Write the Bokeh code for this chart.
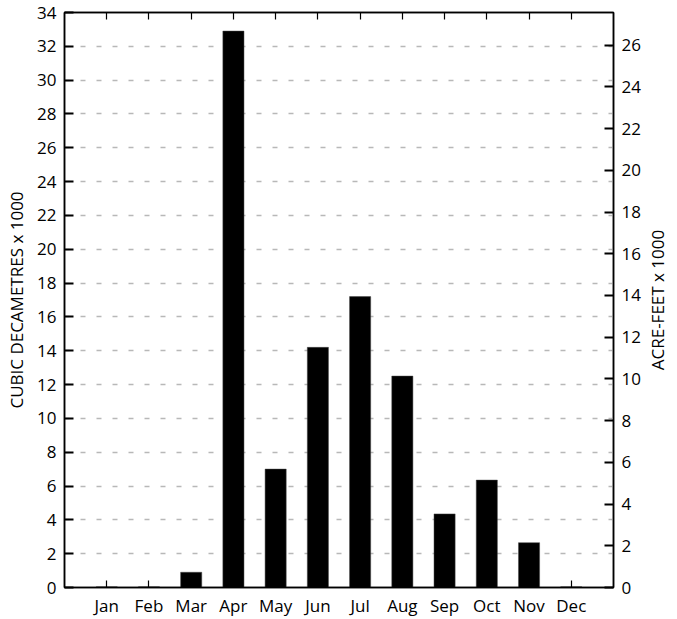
import math
from bokeh.plotting import figure
from bokeh.models import (LinearAxis, Range1d, FixedTicker)
from bokeh.layouts import row
from bokeh.core.properties import value
from bokeh.embed import file_html
from bokeh.resources import INLINE

months = ["Jan", "Feb", "Mar", "Apr", "May", "Jun", "Jul", "Aug", "Sep", "Oct", "Nov", "Dec"]
volume_dam3 = [0.04, 0.04, 0.9, 32.9, 7.0, 14.2, 17.2, 12.5, 4.35, 6.35, 2.65, 0.04]
left_ticks = list(range(0, 35, 2))
right_ticks = list(range(0, 28, 2))
right_title = "ACRE-FEET x 1000"
left_title = "CUBIC DECAMETRES x 1000"
DAM3_TO_AF = 0.8107
y_max = 34
x_max = 13

FONT = "Open Sans"
FS = "17px"
xs = list(range(1, len(months) + 1))

p = figure(width=647, height=619, output_backend="svg", toolbar_location=None,
           x_range=Range1d(0, x_max), y_range=Range1d(0, y_max),
           min_border_left=64, min_border_right=34, min_border_top=12, min_border_bottom=32)
p.extra_y_ranges = {"af": Range1d(0, y_max * DAM3_TO_AF)}

p.vbar(x=xs, top=volume_dam3, width=0.5, fill_color="black", line_color="#444444", line_width=0.5)

p.outline_line_color = "black"
p.outline_line_width = 1.5
p.xgrid.visible = False
p.ygrid.grid_line_color = "#b8b8b8"
p.ygrid.grid_line_dash = "5 11"
p.ygrid.grid_line_width = 1.5
p.ygrid.ticker = FixedTicker(ticks=left_ticks)

# bottom axis
xa = p.xaxis[0]
xa.ticker = FixedTicker(ticks=xs)
xa.major_label_overrides = {i: m for i, m in zip(xs, months)}
xa.major_tick_in = 7
xa.major_tick_out = 0
xa.minor_tick_line_color = None
xa.axis_line_width = 1.5
xa.major_tick_line_width = 1.2
xa.major_label_text_font = FONT
xa.major_label_text_font_size = FS
xa.major_label_text_color = "black"
xa.major_label_standoff = 6

# left axis
ya = p.yaxis[0]
ya.ticker = FixedTicker(ticks=left_ticks)
ya.major_tick_in = 9
ya.major_tick_out = 0
ya.minor_tick_line_color = None
ya.axis_line_width = 1.5
ya.major_tick_line_width = 2
ya.major_label_text_font = FONT
ya.major_label_text_font_size = FS
ya.major_label_text_color = "black"
ya.major_label_standoff = 8
ya.axis_label = left_title
ya.axis_label_text_font = FONT
ya.axis_label_text_font_size = FS
ya.axis_label_text_font_style = "normal"
ya.axis_label_text_color = "black"
ya.axis_label_standoff = 6

# top axis
ta = LinearAxis(ticker=FixedTicker(ticks=xs))
ta.major_tick_in = 7
ta.major_tick_out = 0
ta.minor_tick_line_color = None
ta.major_label_text_alpha = 0
ta.major_label_text_font_size = "1px"
ta.axis_line_width = 1.5
ta.major_tick_line_width = 1.2
p.add_layout(ta, "above")

# right axis
ra = LinearAxis(y_range_name="af", ticker=FixedTicker(ticks=right_ticks))
ra.major_tick_in = 9
ra.major_tick_out = 0
ra.minor_tick_line_color = None
ra.axis_line_width = 1.5
ra.major_tick_line_width = 2
ra.major_label_text_font = FONT
ra.major_label_text_font_size = FS
ra.major_label_text_color = "black"
ra.major_label_standoff = 8
p.add_layout(ra, "right")

# narrow strip holding the right axis title, reading bottom-to-top
p2 = figure(width=30, height=619, output_backend="svg", toolbar_location=None,
            x_range=Range1d(0, 30), y_range=Range1d(0, y_max),
            min_border_left=0, min_border_right=0, min_border_top=12, min_border_bottom=32)
p2.axis.visible = False
p2.grid.visible = False
p2.outline_line_color = None
p2.text(x=[10], y=[y_max / 2], text=[right_title], angle=math.pi / 2,
        text_align="center", text_baseline="middle",
        text_font=value(FONT), text_font_size=FS, text_color="black")

layout = row(p, p2, spacing=0)
open("out.html", "w").write(file_html(layout, INLINE))
